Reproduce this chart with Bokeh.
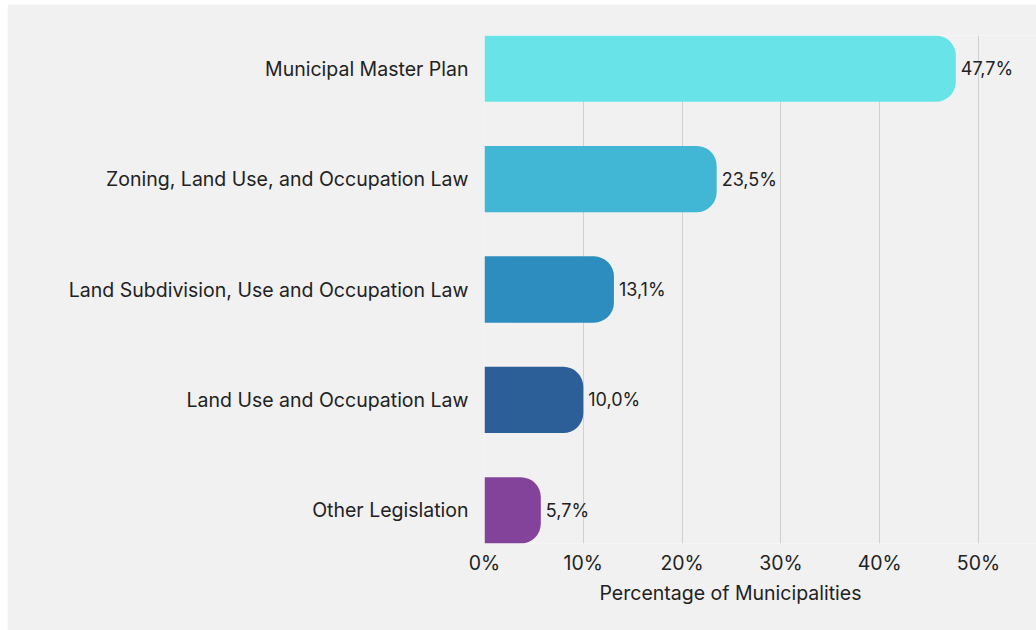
from bokeh.plotting import figure
from bokeh.models import Range1d, FixedTicker, ColumnDataSource, CustomJSTickFormatter, Title
from bokeh.core.properties import value
from bokeh.embed import file_html
from bokeh.resources import INLINE

categories = ["Municipal Master Plan", "Zoning, Land Use, and Occupation Law",
              "Land Subdivision, Use and Occupation Law", "Land Use and Occupation Law",
              "Other Legislation"]
percentages = [47.7, 23.5, 13.1, 10.0, 5.7]
value_labels = ["47,7%", "23,5%", "13,1%", "10,0%", "5,7%"]
colors = ["#68E4E8", "#42B6D5", "#2C8DBE", "#2C5E97", "#84439B"]
x_ticks = [0, 10, 20, 30, 40, 50]
x_title = "Percentage of Municipalities"

FONT = "Inter"
BG = "#f1f1f1"

p = figure(width=1029, height=626, output_backend="svg", toolbar_location=None,
           x_range=Range1d(0, 55.87), y_range=Range1d(4.3, -0.3),
           min_border_left=477, min_border_right=0, min_border_top=31, min_border_bottom=87)
p.margin = (4, 0, 0, 7)
p.background_fill_color = BG
p.border_fill_color = BG
p.outline_line_color = None

src = ColumnDataSource(dict(y=list(range(len(categories))), x=percentages,
                            lab=value_labels, color=colors))
p.hbar(y="y", left=0, right="x", height=0.6, fill_color="color", line_color=None,
       border_radius=(0, 20, 20, 0), source=src)
p.text(x="x", y="y", text="lab", x_offset=5, text_baseline="middle", text_align="left",
       text_font=value(FONT), text_font_size="18px", text_color="#222222", source=src)

# grid
p.ygrid.grid_line_color = None
p.xgrid.ticker = FixedTicker(ticks=x_ticks)
p.xgrid.grid_line_color = "#d0d0d0"
p.xgrid.grid_line_width = 1

# x axis
xa = p.xaxis[0]
xa.ticker = FixedTicker(ticks=x_ticks)
xa.formatter = CustomJSTickFormatter(code="return tick.toFixed(0) + '%';")
xa.axis_line_color = None
xa.major_tick_line_color = None
xa.minor_tick_line_color = None
xa.major_tick_out = 0
xa.major_tick_in = 0
xa.major_label_standoff = 7
xa.major_label_text_font = FONT
xa.major_label_text_font_size = "19.5px"
xa.major_label_text_color = "#222222"

# axis title, left-aligned so it sits under the 0-50% span as in the reference
t = Title(text=x_title, align="left", offset=115, standoff=2,
          text_font=FONT, text_font_size="19.5px", text_font_style="normal",
          text_color="#222222")
p.add_layout(t, "below")

# y axis
ya = p.yaxis[0]
ya.ticker = FixedTicker(ticks=list(range(len(categories))))
ya.major_label_overrides = {i: c for i, c in enumerate(categories)}
ya.axis_line_color = None
ya.major_tick_line_color = None
ya.minor_tick_line_color = None
ya.major_tick_out = 0
ya.major_tick_in = 0
ya.major_label_standoff = 16
ya.major_label_text_font = FONT
ya.major_label_text_font_size = "19.5px"
ya.major_label_text_color = "#222222"

open("out.html", "w").write(file_html(p, INLINE))
